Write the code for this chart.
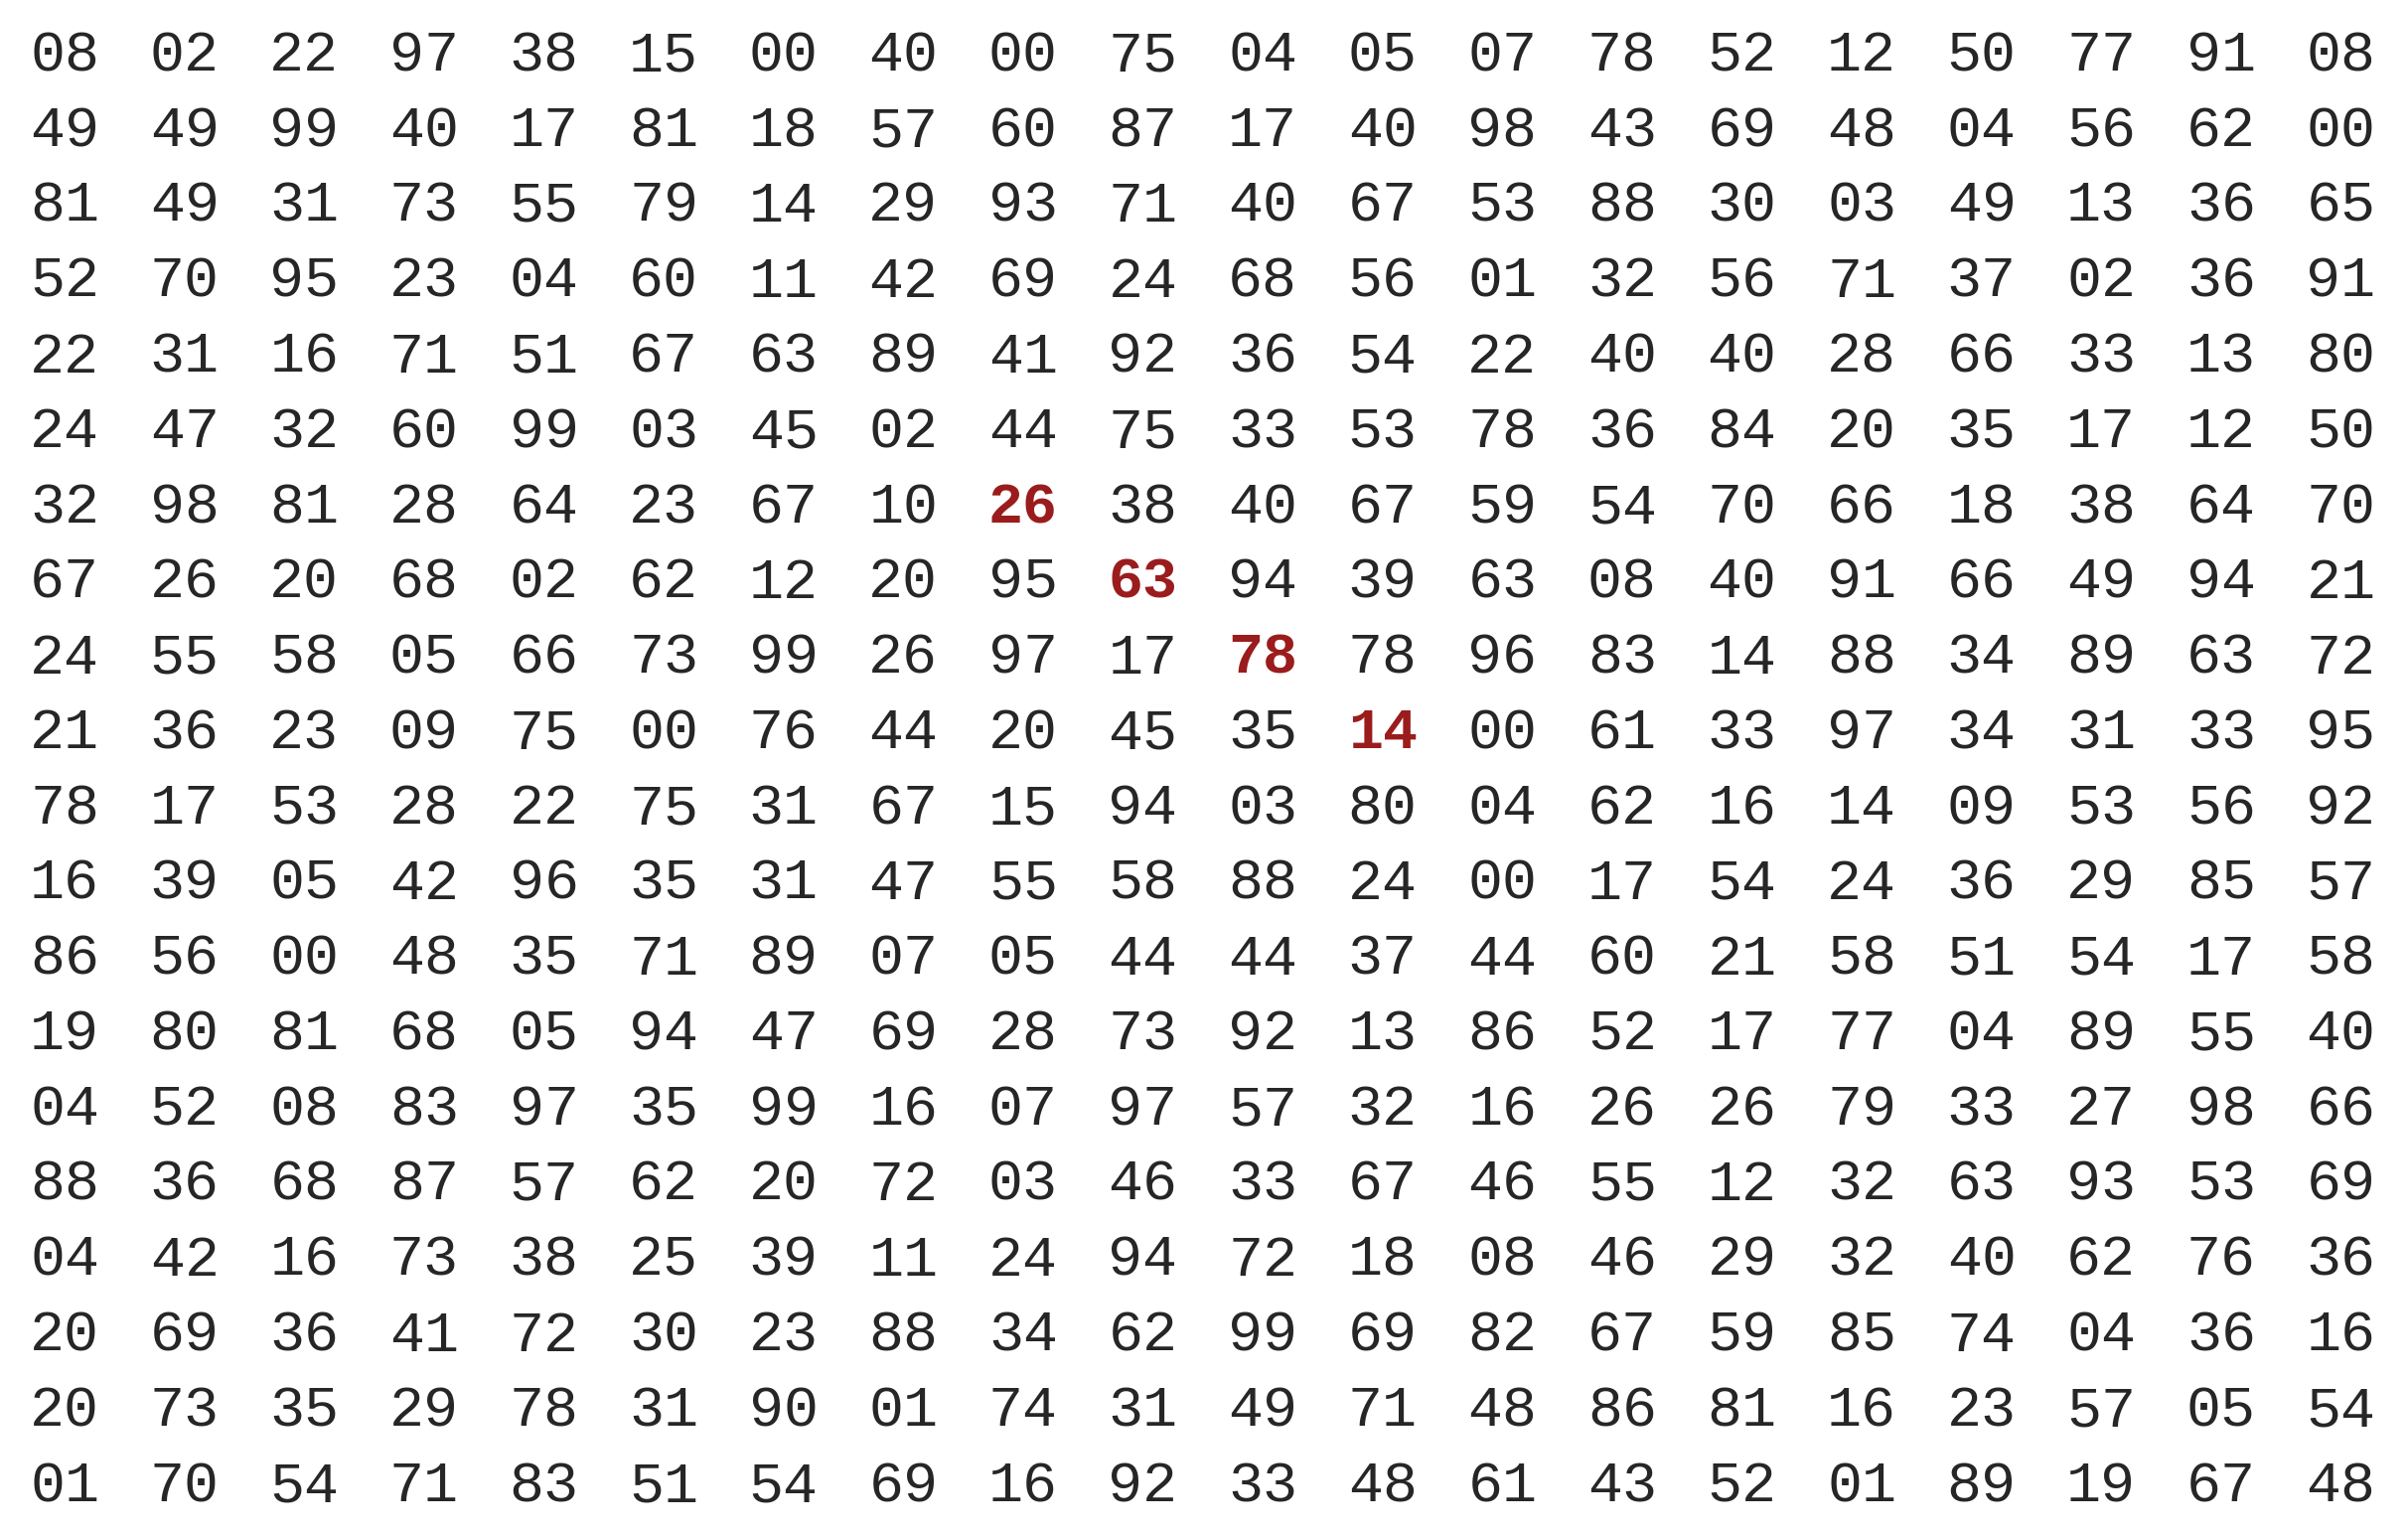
import numpy as np, pandas as pd, seaborn as sns, matplotlib
matplotlib.use("Agg")
import matplotlib.pyplot as plt

rows = [
"08 02 22 97 38 15 00 40 00 75 04 05 07 78 52 12 50 77 91 08",
"49 49 99 40 17 81 18 57 60 87 17 40 98 43 69 48 04 56 62 00",
"81 49 31 73 55 79 14 29 93 71 40 67 53 88 30 03 49 13 36 65",
"52 70 95 23 04 60 11 42 69 24 68 56 01 32 56 71 37 02 36 91",
"22 31 16 71 51 67 63 89 41 92 36 54 22 40 40 28 66 33 13 80",
"24 47 32 60 99 03 45 02 44 75 33 53 78 36 84 20 35 17 12 50",
"32 98 81 28 64 23 67 10 26 38 40 67 59 54 70 66 18 38 64 70",
"67 26 20 68 02 62 12 20 95 63 94 39 63 08 40 91 66 49 94 21",
"24 55 58 05 66 73 99 26 97 17 78 78 96 83 14 88 34 89 63 72",
"21 36 23 09 75 00 76 44 20 45 35 14 00 61 33 97 34 31 33 95",
"78 17 53 28 22 75 31 67 15 94 03 80 04 62 16 14 09 53 56 92",
"16 39 05 42 96 35 31 47 55 58 88 24 00 17 54 24 36 29 85 57",
"86 56 00 48 35 71 89 07 05 44 44 37 44 60 21 58 51 54 17 58",
"19 80 81 68 05 94 47 69 28 73 92 13 86 52 17 77 04 89 55 40",
"04 52 08 83 97 35 99 16 07 97 57 32 16 26 26 79 33 27 98 66",
"88 36 68 87 57 62 20 72 03 46 33 67 46 55 12 32 63 93 53 69",
"04 42 16 73 38 25 39 11 24 94 72 18 08 46 29 32 40 62 76 36",
"20 69 36 41 72 30 23 88 34 62 99 69 82 67 59 85 74 04 36 16",
"20 73 35 29 78 31 90 01 74 31 49 71 48 86 81 16 23 57 05 54",
"01 70 54 71 83 51 54 69 16 92 33 48 61 43 52 01 89 19 67 48",
]
highlight = [(6, 8), (7, 9), (8, 10), (9, 11)]

labels = np.array([r.split() for r in rows])
values = labels.astype(int)

fig = plt.figure(figsize=(24.24, 15.44), dpi=100)
ax = fig.add_axes([0.002, 0.0065, 0.995, 0.9815])
sns.heatmap(pd.DataFrame(values), annot=labels, fmt="", cmap=["white"], cbar=False,
            ax=ax, xticklabels=False, yticklabels=False,
            annot_kws=dict(fontsize=42, family="Liberation Mono", color="#262626"))
n = labels.shape[1]
for i, t in enumerate(ax.texts):
    r, c = divmod(i, n)
    if (r, c) in highlight:
        t.set_color("#9b1c1c")
        t.set_fontweight("bold")
ax.set_xlabel(""); ax.set_ylabel("")
fig.savefig("out.png", dpi=100, facecolor="white")
